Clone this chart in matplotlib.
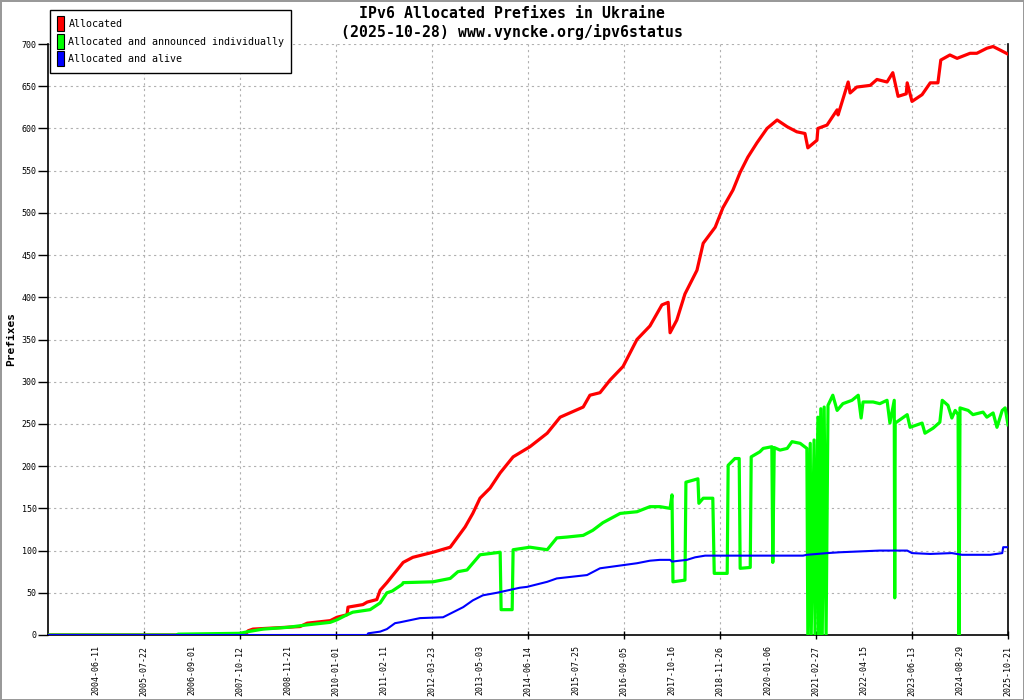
import numpy as np
import matplotlib
matplotlib.use('Agg')
from matplotlib import pyplot as plt
from matplotlib.patches import Patch

# x values are in tick units: 0 = left edge, 1..20 = the date labels below
date_labels = ['2004-06-11', '2005-07-22', '2006-09-01', '2007-10-12', '2008-11-21',
               '2010-01-01', '2011-02-11', '2012-03-23', '2013-05-03', '2014-06-14',
               '2015-07-25', '2016-09-05', '2017-10-16', '2018-11-26', '2020-01-06',
               '2021-02-27', '2022-04-15', '2023-06-13', '2024-08-29', '2025-10-21']

red_x = [0, 4.10, 4.17, 4.27, 5.25, 5.40, 5.88, 6.02, 6.23, 6.25, 6.56, 6.65, 6.85, 6.92, 7.06,
         7.40, 7.60, 8.02, 8.38, 8.69, 8.85, 9.00, 9.21, 9.42, 9.69, 10.04, 10.40, 10.67,
         11.15, 11.29, 11.50, 11.71, 11.98, 12.27, 12.54, 12.79, 12.92, 12.96, 13.10, 13.27,
         13.52, 13.65, 13.90, 14.06, 14.27, 14.42, 14.58, 14.77, 14.98, 15.19, 15.40, 15.60,
         15.77, 15.83, 16.02, 16.04, 16.23, 16.44, 16.46, 16.60, 16.67, 16.71, 16.85, 17.13,
         17.27, 17.48, 17.60, 17.71, 17.88, 17.90, 18.00, 18.21, 18.38, 18.54, 18.60, 18.79,
         18.94, 19.21, 19.35, 19.56, 19.69, 19.83, 20.00]
red_y = [0, 0, 5, 7, 10, 14, 17, 21, 24, 33, 36, 39, 42, 53, 62,
         86, 92, 98, 104, 128, 144, 162, 174, 192, 211, 223, 239, 258,
         270, 284, 287, 302, 318, 350, 366, 391, 394, 358, 373, 404,
         432, 464, 483, 506, 527, 548, 566, 583, 600, 610, 602, 596,
         594, 577, 586, 600, 604, 622, 616, 642, 655, 642, 649, 651,
         658, 655, 666, 638, 641, 654, 632, 640, 654, 654, 681, 687,
         683, 689, 689, 695, 697, 693, 688]

green_x = [0, 2.70, 2.71, 4.00, 4.17, 4.48, 4.98, 5.40, 5.88, 6.02, 6.23, 6.35, 6.71, 6.92,
           7.06, 7.17, 7.38, 7.40, 8.02, 8.38, 8.54, 8.73, 9.00, 9.42, 9.44, 9.67, 9.69,
           10.04, 10.40, 10.60, 10.81, 11.15, 11.35, 11.56, 11.92, 12.27, 12.54, 12.75,
           12.96, 13.00, 13.02, 13.27, 13.29, 13.54, 13.56, 13.65, 13.85, 13.88, 14.15,
           14.17, 14.31, 14.40, 14.42, 14.63, 14.65, 14.83, 14.90, 15.08, 15.10, 15.13,
           15.25, 15.40, 15.50, 15.67, 15.81, 15.83, 15.88, 15.90, 15.96, 15.98, 16.04,
           16.06, 16.10, 16.13, 16.17, 16.21, 16.25, 16.35, 16.44, 16.56, 16.75, 16.88,
           16.94, 16.98, 17.19, 17.33, 17.48, 17.54, 17.63, 17.64, 17.65, 17.90, 17.96,
           18.21, 18.27, 18.44, 18.58, 18.63, 18.75, 18.83, 18.90, 18.96, 18.98, 19.00,
           19.17, 19.27, 19.48, 19.56, 19.69, 19.77, 19.88, 19.94, 20.00]
green_y = [0, 0, 1, 2, 4, 7, 9, 12, 15, 18, 24, 27, 30, 38,
           50, 52, 60, 62, 63, 67, 75, 77, 95, 98, 30, 30, 101,
           104, 101, 115, 116, 118, 124, 133, 144, 146, 152, 152,
           150, 166, 63, 65, 181, 185, 156, 162, 162, 73, 73,
           201, 209, 209, 79, 80, 211, 217, 221, 223, 86, 222,
           219, 221, 229, 227, 221, 0, 227, 0, 231, 0, 258,
           0, 268, 0, 270, 0, 272, 284, 266, 274, 278, 284,
           257, 276, 276, 274, 278, 251, 278, 44, 251, 261, 246,
           251, 239, 245, 252, 278, 272, 257, 266, 261, 0, 269,
           266, 261, 264, 258, 263, 246, 266, 269, 249]

blue_x = [0, 6.65, 6.67, 6.92, 7.06, 7.23, 7.33, 7.75, 8.23, 8.44, 8.65, 8.85, 9.06, 9.35,
          9.83, 9.98, 10.40, 10.60, 11.23, 11.50, 12.27, 12.54, 12.75, 12.96, 13.00, 13.31,
          13.48, 13.69, 15.73, 15.81, 16.23, 16.50, 17.33, 17.90, 18.00, 18.38, 18.83,
          19.04, 19.63, 19.88, 19.90, 20.00]
blue_y = [0, 0, 2, 4, 7, 14, 15, 20, 21, 27, 33, 41, 47, 50,
          56, 57, 63, 67, 71, 79, 85, 88, 89, 89, 87, 89,
          92, 94, 94, 95, 97, 98, 100, 100, 97, 96, 97,
          95, 95, 97, 104, 104]

mono = 'DejaVu Sans Mono'

fig = plt.figure(figsize=(10.24, 7.0), dpi=100, linewidth=2, edgecolor='#999999')
ax = fig.add_axes([48/1024, 1-635/700, 960/1024, 591/700])

ax.plot(red_x, red_y, color='#ff0000', lw=2.3, zorder=3)
ax.plot(green_x, green_y, color='#00ff00', lw=2.3, zorder=4)
ax.plot(blue_x, blue_y, color='#0000ff', lw=1.5, zorder=5)

ax.set_xlim(0, 20)
ax.set_ylim(0, 700)

# grid
for v in range(50, 701, 50):
    ax.axhline(v, color='#b0b0b0', lw=0.8, ls=(0, (2, 3)), zorder=1)
for u in range(2, 20, 2):
    ax.axvline(u, color='#b0b0b0', lw=0.8, ls=(0, (2, 3)), zorder=1)

ax.set_yticks(range(0, 701, 50))
ax.set_xticks(range(2, 21, 2))
ax.set_xticks(range(1, 20, 2), minor=True)
ax.set_xticklabels(date_labels[1::2], rotation=90, fontsize=6, family=mono)
ax.set_xticklabels(date_labels[0::2], rotation=90, fontsize=6, family=mono, minor=True)
ax.tick_params(axis='x', which='major', length=6, width=1, direction='inout', pad=5)
ax.tick_params(axis='x', which='minor', length=0, pad=7.2)
ax.tick_params(axis='y', length=7, width=1, direction='out', pad=1, labelsize=6)
for t in ax.get_yticklabels():
    t.set_family(mono)

ax.spines['top'].set_visible(False)
for s in ['left', 'bottom', 'right']:
    ax.spines[s].set_linewidth(1.2)

ax.set_ylabel('Prefixes', fontsize=8, fontweight='bold', family=mono, labelpad=4)

fig.text(0.5, 1-14/700, 'IPv6 Allocated Prefixes in Ukraine', ha='center', va='center',
         fontsize=10.7, family=mono, fontweight='bold')
fig.text(0.5, 1-32/700, '(2025-10-28) www.vyncke.org/ipv6status', ha='center', va='center',
         fontsize=10.7, family=mono, fontweight='bold')

handles = [Patch(facecolor='#ff0000', edgecolor='black', lw=0.8),
           Patch(facecolor='#00ff00', edgecolor='black', lw=0.8),
           Patch(facecolor='#0000ff', edgecolor='black', lw=0.8)]
labels = ['Allocated', 'Allocated and announced individually', 'Allocated and alive']
leg = fig.legend(handles, labels, loc='upper left', bbox_to_anchor=(50/1024, 1-10/700),
                 borderaxespad=0, fancybox=False, edgecolor='black', framealpha=1,
                 prop={'family': mono, 'size': 7.2}, handlelength=0.7, handleheight=1.9,
                 handletextpad=0.5, labelspacing=0.27, borderpad=0.65)
leg.get_frame().set_linewidth(1.0)

fig.savefig('out.png', dpi=100)
